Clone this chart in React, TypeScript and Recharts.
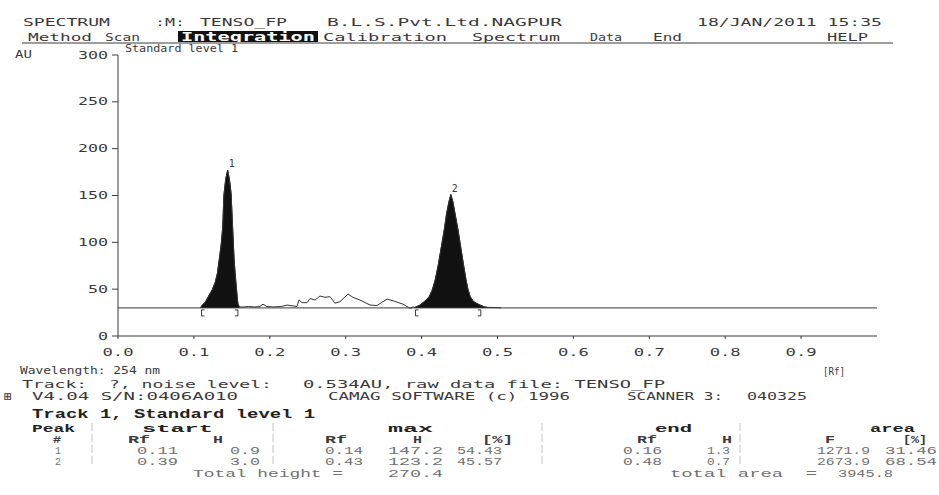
import React from 'react';
import { ComposedChart, Area, Line, Scatter, XAxis, YAxis, ReferenceLine } from 'recharts';

const BASELINE = 30;

const peak1Rf = [0.109, 0.111, 0.115, 0.119, 0.124, 0.128, 0.131, 0.1335, 0.136, 0.138, 0.1395, 0.142, 0.1445, 0.147, 0.149, 0.151, 0.153, 0.1545, 0.1555, 0.157, 0.158, 0.160];
const peak1Au = [30.5, 33, 36, 42, 49, 57, 67, 82, 98, 116, 150, 168, 177, 166, 152, 116, 81, 65, 56, 42, 34, 31];

const noiseRf = [0.165, 0.172, 0.180, 0.187, 0.191, 0.196, 0.205, 0.215, 0.2227, 0.2358, 0.2385, 0.2424, 0.249, 0.253, 0.2596, 0.2661, 0.2727, 0.2793, 0.2859, 0.2925, 0.303, 0.3096, 0.3188, 0.332, 0.3412, 0.3544, 0.3623, 0.3755, 0.3847, 0.3887];
const noiseAu = [31, 31.5, 31, 31.5, 34, 31.5, 31, 31.5, 33, 31.5, 38.5, 35.6, 35.6, 40, 38.4, 42.7, 41.3, 42, 35, 36.7, 44.8, 41.3, 38.4, 33.1, 32.5, 39.4, 37.6, 34, 29.6, 31];

const peak2Rf = [0.391, 0.398, 0.404, 0.410, 0.414, 0.418, 0.422, 0.426, 0.430, 0.433, 0.436, 0.4385, 0.441, 0.444, 0.448, 0.4515, 0.455, 0.4585, 0.461, 0.464, 0.468, 0.472, 0.477, 0.483, 0.487];
const peak2Au = [30.5, 33, 37, 42, 49, 60, 76, 95, 114, 131, 143, 151, 144, 131, 113, 95, 77, 60, 50, 42, 37, 35, 33, 31, 30.5];

const tailRf = [0.495, 0.505];
const tailAu = [30.5, 30];

const peakLabels = [
  { rf: 0.1445, au: 177, label: '1' },
  { rf: 0.4385, au: 151, label: '2' },
];
const brackets = [
  { rf: 0.110, au: BASELINE, kind: 'open' },
  { rf: 0.158, au: BASELINE, kind: 'close' },
  { rf: 0.392, au: BASELINE, kind: 'open' },
  { rf: 0.478, au: BASELINE, kind: 'close' },
];

const xTicks = [0, 0.1, 0.2, 0.3, 0.4, 0.5, 0.6, 0.7, 0.8, 0.9];
const yTicks = [0, 50, 100, 150, 200, 250, 300];

type Pt = { rf: number; au: number; fill: number | null };
const data: Pt[] = [];
peak1Rf.forEach((r, i) => data.push({ rf: r, au: peak1Au[i], fill: peak1Au[i] }));
noiseRf.forEach((r, i) => data.push({ rf: r, au: noiseAu[i], fill: null }));
peak2Rf.forEach((r, i) => data.push({ rf: r, au: peak2Au[i], fill: peak2Au[i] }));
tailRf.forEach((r, i) => data.push({ rf: r, au: tailAu[i], fill: null }));
data.sort((a, b) => a.rf - b.rf);

const MONO = '"DejaVu Sans Mono", monospace';
const COUR = '"Liberation Mono", "Courier New", monospace';
const INK = '#3a3a3a';
const GREY = '#707070';

function T({ x, y, w, s = 10.5, b = false, f = MONO, c = INK, children }: any) {
  return (
    <text x={x} y={y} fontSize={s} fontFamily={f} fontWeight={b ? 'bold' : 'normal'} fill={c}
      xmlSpace="preserve" style={{ whiteSpace: 'pre' }}
      textLength={w} lengthAdjust="spacingAndGlyphs">{children}</text>
  );
}

const YTick = (props: any) => {
  const v = String(props.payload.value);
  return (
    <text x={props.x} y={props.y} dy="0.35em" textAnchor="end" fontSize={10} fontFamily={MONO} fill={INK}
      textLength={v.length * 10} lengthAdjust="spacingAndGlyphs">{v}</text>
  );
};
const XTick = (props: any) => {
  const v = Number(props.payload.value).toFixed(1);
  return (
    <text x={props.x} y={props.y} dy="0.71em" textAnchor="middle" fontSize={10} fontFamily={MONO} fill={INK}
      textLength={31} lengthAdjust="spacingAndGlyphs">{v}</text>
  );
};

const LabelShape = (props: any) => (
  <text x={props.cx + 1} y={props.cy - 3} fontSize={10} fontFamily={MONO} fill={INK}>{props.payload.label}</text>
);
const BracketShape = (props: any) => {
  const { cx, cy } = props;
  const d = props.payload.kind === 'open'
    ? `M ${cx + 3} ${cy + 2} H ${cx} V ${cy + 8} H ${cx + 3}`
    : `M ${cx - 3} ${cy + 2} H ${cx} V ${cy + 8} H ${cx - 3}`;
  return <path d={d} stroke={INK} strokeWidth={1} fill="none" />;
};

const sep = [92, 273, 542, 740];

export default function App() {
  return (
    <div style={{ position: 'absolute', left: 0, top: 0, width: 939, height: 495, background: '#fff' }}>
      <ComposedChart width={939} height={495} data={data} margin={{ top: 55, right: 62, bottom: 129, left: 0 }}>
        <XAxis type="number" dataKey="rf" domain={[0, 1]} ticks={xTicks} tick={<XTick />} tickSize={3} tickMargin={10}
          height={30} stroke={INK} axisLine={{ stroke: INK }} tickLine={{ stroke: INK }} allowDataOverflow />
        <YAxis type="number" domain={[0, 300]} ticks={yTicks} tick={<YTick />} tickSize={6} tickMargin={4}
          width={118} stroke={INK} axisLine={{ stroke: INK }} tickLine={{ stroke: INK }} />
        <ReferenceLine y={BASELINE} stroke={INK} strokeWidth={1} ifOverflow="extendDomain" />
        <Area type="linear" dataKey="fill" baseValue={BASELINE} fill="#111" fillOpacity={1} stroke="#111" strokeWidth={1}
          isAnimationActive={false} connectNulls={false} />
        <Line type="linear" dataKey="au" stroke="#333" strokeWidth={1} dot={false} isAnimationActive={false} />
        <Scatter data={peakLabels} dataKey="au" shape={<LabelShape />} isAnimationActive={false} />
        <Scatter data={brackets} dataKey="au" shape={<BracketShape />} isAnimationActive={false} />
      </ComposedChart>
      <svg width={939} height={495} style={{ position: 'absolute', left: 0, top: 0, pointerEvents: 'none' }}>
        {/* header */}
        <T x={23} y={26} w={87} s={11}>SPECTRUM</T>
        <T x={155} y={26} w={30} s={11}>:M:</T>
        <T x={200} y={26} w={87} s={11}>TENSO_FP</T>
        <T x={327} y={26} w={235} s={11}>B.L.S.Pvt.Ltd.NAGPUR</T>
        <T x={697} y={26} w={185} s={11}>18/JAN/2011 15:35</T>
        {/* menu */}
        <T x={28} y={41} w={64} s={11}>Method</T>
        <T x={105} y={41} w={35} s={11}>Scan</T>
        <rect x={178} y={31} width={140} height={11} fill="#111" />
        <T x={181} y={40.5} w={134} s={12} b c="#fff">Integration</T>
        <T x={323} y={41} w={124} s={11}>Calibration</T>
        <T x={472} y={41} w={88} s={11}>Spectrum</T>
        <T x={590} y={41} w={32} s={11}>Data</T>
        <T x={653} y={41} w={29} s={11}>End</T>
        <T x={827} y={41} w={41} s={11}>HELP</T>
        <line x1={22} y1={43} x2={893} y2={43} stroke={INK} strokeWidth={1} />
        {/* plot titles */}
        <T x={125} y={52} w={113}>Standard level 1</T>
        <T x={15} y={58} w={17}>AU</T>
        <T x={823} y={375} w={22}>[Rf]</T>
        {/* info */}
        <T x={20} y={374} w={140}>Wavelength: 254 nm</T>
        <T x={22} y={388} w={250}>Track:  ?, noise level:</T>
        <T x={303} y={388} w={362}>0.534AU, raw data file: TENSO_FP</T>
        <text x={4} y={401} fontSize={13} fontFamily={MONO} fill={INK}>⊞</text>
        <T x={32} y={400} w={206}>V4.04 S/N:0406A010</T>
        <T x={328} y={400} w={242}>CAMAG SOFTWARE (c) 1996</T>
        <T x={627} y={400} w={96}>SCANNER 3:</T>
        <T x={747} y={400} w={60}>040325</T>
        {/* table */}
        <T x={32} y={418} w={283} s={12} b f={COUR} c="#222">Track 1, Standard level 1</T>
        <T x={32} y={432} w={43} s={11} b f={COUR} c="#222">Peak</T>
        <T x={142} y={432} w={71} s={11} b f={COUR} c="#222">start</T>
        <T x={388} y={432} w={45} s={11} b f={COUR} c="#222">max</T>
        <T x={655} y={432} w={37} s={11} b f={COUR} c="#222">end</T>
        <T x={870} y={432} w={45} s={11} b f={COUR} c="#222">area</T>
        <T x={53} y={443} w={8} b f={COUR}>#</T>
        <T x={128} y={443} w={22} b f={COUR}>Rf</T>
        <T x={213} y={443} w={10} b f={COUR}>H</T>
        <T x={325} y={443} w={22} b f={COUR}>Rf</T>
        <T x={413} y={443} w={9} b f={COUR}>H</T>
        <T x={482} y={443} w={31} b f={COUR}>[%]</T>
        <T x={637} y={443} w={20} b f={COUR}>Rf</T>
        <T x={722} y={443} w={10} b f={COUR}>H</T>
        <T x={825} y={443} w={10} b f={COUR}>F</T>
        <T x={903} y={443} w={24} b f={COUR}>[%]</T>
        {[['1', '0.11', '0.9', '0.14', '147.2', '54.43', '0.16', '1.3', '1271.9', '31.46'],
          ['2', '0.39', '3.0', '0.43', '123.2', '45.57', '0.48', '0.7', '2673.9', '68.54']].map((r, i) => {
          const y = 454 + i * 11;
          return (
            <g key={i}>
              <T x={55} y={y} w={6} f={COUR} c={GREY}>{r[0]}</T>
              <T x={137} y={y} w={41} f={COUR} c={GREY}>{r[1]}</T>
              <T x={230} y={y} w={30} f={COUR} c={GREY}>{r[2]}</T>
              <T x={325} y={y} w={38} f={COUR} c={GREY}>{r[3]}</T>
              <T x={388} y={y} w={55} f={COUR} c={GREY}>{r[4]}</T>
              <T x={457} y={y} w={45} f={COUR} c={GREY}>{r[5]}</T>
              <T x={623} y={y} w={39} f={COUR} c={GREY}>{r[6]}</T>
              <T x={707} y={y} w={23} f={COUR} c={GREY}>{r[7]}</T>
              <T x={817} y={y} w={53} f={COUR} c={GREY}>{r[8]}</T>
              <T x={885} y={y} w={52} f={COUR} c={GREY}>{r[9]}</T>
            </g>
          );
        })}
        <T x={193} y={477} w={150} f={COUR} c={GREY}>Total height =</T>
        <T x={388} y={477} w={55} f={COUR} c={GREY}>270.4</T>
        <T x={670} y={477} w={147} f={COUR} c={GREY}>total area  =</T>
        <T x={838} y={477} w={55} f={COUR} c={GREY}>3945.8</T>
        {sep.map((x) => (
          <line key={x} x1={x} y1={423} x2={x} y2={466} stroke="#c4c4c4" strokeWidth={1} strokeDasharray="8 3" />
        ))}
      </svg>
    </div>
  );
}
